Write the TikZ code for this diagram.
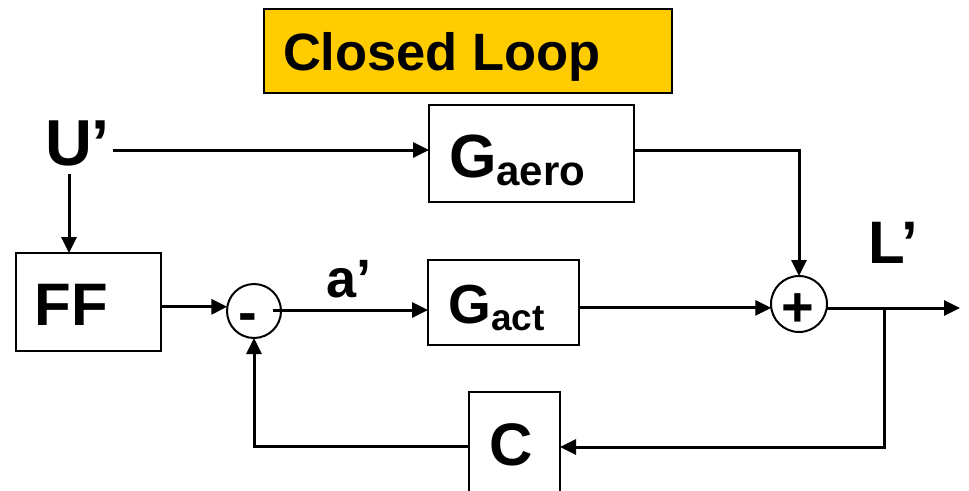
\documentclass[tikz,border=0pt]{standalone}
\usepackage{fontspec}
\setmainfont{Liberation Sans}
\usetikzlibrary{arrows.meta}
\definecolor{titlegold}{HTML}{FFCC00}
\begin{document}
\begin{tikzpicture}[x=1pt,y=-1pt,
  blk/.style={draw, line width=2.5pt, rectangle, inner sep=0pt, outer sep=0pt},
  sumpt/.style={draw, line width=2pt, circle, inner sep=0pt, outer sep=0pt, minimum size=#1},
  lbl/.style={inner sep=0pt, outer sep=0pt, anchor=base west},
  sgn/.style={inner sep=0pt, outer sep=0pt, anchor=base},
  wire/.style={line width=3pt},
  flow/.style={wire, -{Triangle[length=16pt,width=15pt]}}
]
% page frame
\useasboundingbox (0,0) rectangle (969,490);
\fill[white] (0,0) rectangle (969,490);
\clip (0,0) rectangle (969,490);

% title banner
\node[blk, fill=titlegold, minimum width=408pt, minimum height=84pt] (title) at (468,51) {};
\node[lbl, font=\bfseries\fontsize{52.5}{60}\selectfont] (titletext) at (283,70) {Closed Loop};

% blocks
\node[blk, minimum width=205pt, minimum height=97pt] (gaero) at (531.5,153.5) {};
\node[blk, minimum width=151pt, minimum height=85pt] (gact) at (503.5,302.5) {};
\node[blk, minimum width=145pt, minimum height=98pt] (ff) at (88.5,302) {};
\node[blk, minimum width=91pt, minimum height=104pt] (cbox) at (514.5,444) {};

% summing junctions
\node[sumpt=54pt] (minus) at (254,311) {};
\node[sumpt=56pt] (plus) at (799,304) {};
\node[sgn, font=\bfseries\fontsize{56}{60}\selectfont] (minussign) at (247.5,331) {-};
\node[sgn, font=\bfseries\fontsize{56}{60}\selectfont] (plussign) at (798,326) {+};

% block texts
\node[lbl, font=\bfseries] (gaerotext) at (449,177)
  {\fontsize{61}{61}\selectfont G\fontsize{42}{42}\selectfont\raisebox{-8pt}{aero}};
\node[lbl, font=\bfseries] (gacttext) at (448.5,323)
  {\fontsize{55}{55}\selectfont G\fontsize{37}{37}\selectfont\raisebox{-7pt}{act}};
\node[lbl, font=\bfseries\fontsize{60}{60}\selectfont] (fftext) at (34.5,325) {FF};
\node[lbl, font=\bfseries\fontsize{60}{60}\selectfont] (ctext) at (489,465) {C};

% signal labels
\node[lbl, font=\bfseries\fontsize{65}{65}\selectfont] (ulabel) at (45,165) {U’};
\node[lbl, font=\bfseries\fontsize{54}{54}\selectfont] (alabel) at (326,297) {a’};
\node[lbl, font=\bfseries\fontsize{60}{60}\selectfont] (llabel) at (868.5,263) {L’};

% connectors
\coordinate (uout) at (113,150);
\coordinate (udown) at (69,174);
\coordinate (aout) at (273,310);
\coordinate (outtip) at (960,308);
\coordinate (branch) at (884,308);

\draw[flow] (uout) -- (uout -| gaero.west);
\draw[flow] (udown) -- (udown |- ff.north);
\draw[flow] (ff.east |- minus.171) -- (minus.171);
\draw[flow] (aout) -- (aout -| gact.west);
\draw[flow] (gact.east |- plus.188) -- (plus.188);
\draw[flow] (gaero.east |- uout) -| (plus.north);
\draw[flow] (plus.east |- outtip) -- (outtip);
\draw[flow] (branch) |- (cbox.east |- 0,447);
\draw[flow] (cbox.west |- 0,446) -| (minus.south);
\end{tikzpicture}
\end{document}
